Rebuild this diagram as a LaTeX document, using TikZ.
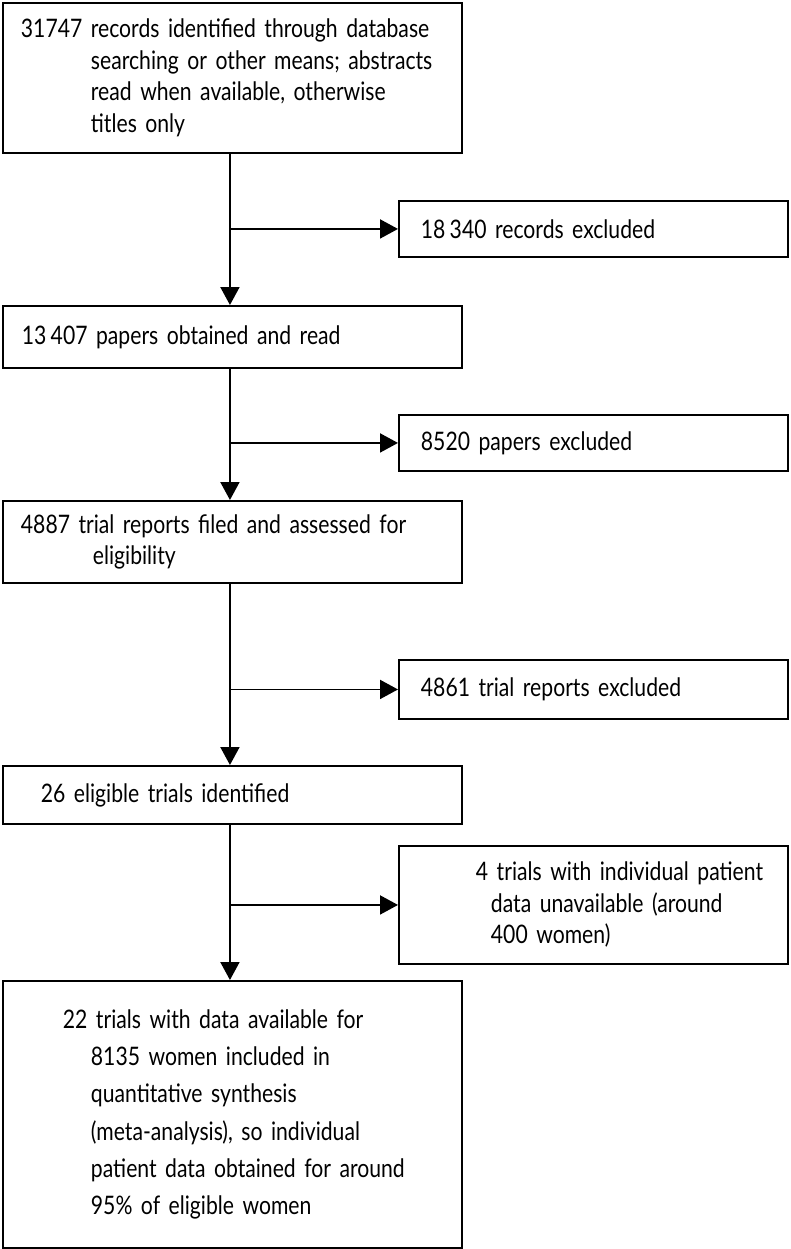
\documentclass[tikz,border=0pt]{standalone}
\usepackage{fontspec}
\setmainfont{Lato}[FakeStretch=0.83, WordSpace=0.7]
\usetikzlibrary{positioning,arrows.meta}

% continuation line with its indent
\newcommand{\contline}[1]{\newline\hspace*{#1}}

\begin{document}
\begin{tikzpicture}[
  x=1pt, y=-1pt,
  mainbox/.style={rectangle, draw, line width=1.9pt, anchor=north west, inner xsep=0pt, inner ysep=0pt, text width=459pt, minimum height=#1},
  exbox/.style={rectangle, draw, line width=1.9pt, anchor=north west, inner xsep=0pt, inner ysep=0pt, text width=389pt, minimum height=#1},
  flow/.style={-{Triangle[length=18pt,width=19pt]}, line width=1.9pt},
  font=\fontsize{25.5}{31.5}\selectfont
]
\useasboundingbox (0,0) rectangle (790,1249);

\node[mainbox=150pt] (records) at (2,2) {\hspace*{18pt}31747 records identified through database\contline{88pt}searching or other means; abstracts\contline{88pt}read when available, otherwise\contline{88pt}titles only};
\node[mainbox=62pt] (papers) at (2,305) {\hspace*{19pt}13\,407 papers obtained and read};
\node[mainbox=82pt] (reports) at (2,500) {\hspace*{18pt}4887 trial reports filed and assessed for\contline{90pt}eligibility};
\node[mainbox=58pt] (eligible) at (2,765) {\hspace*{38pt}26 eligible trials identified};
\node[mainbox=267pt, font=\fontsize{25.5}{37.3}\selectfont] (included) at (2,980) {\hspace*{60pt}22 trials with data available for\contline{88pt}8135 women included in\contline{88pt}quantitative synthesis\contline{88pt}(meta-analysis), so individual\contline{88pt}patient data obtained for around\contline{88pt}95\% of eligible women};

\node[exbox=56pt] (recexcl) at (398,200) {\hspace*{22pt}18\,340 records excluded};
\node[exbox=56pt] (papexcl) at (398,414) {\hspace*{22pt}8520 papers excluded};
\node[exbox=59pt] (repexcl) at (398,659) {\hspace*{22pt}4861 trial reports excluded};
\node[exbox=118pt] (unavail) at (398,845) {\hspace*{77pt}4 trials with individual patient\contline{92pt}data unavailable (around\contline{92pt}400 women)};

\draw[flow] ([xshift=-2.5pt]records.south) -- ([xshift=-2.5pt]papers.north);
\draw[flow] ([xshift=-2.5pt]papers.south) -- ([xshift=-2.5pt]reports.north);
\draw[flow] ([xshift=-2.5pt]reports.south) -- ([xshift=-2.5pt]eligible.north);
\draw[flow] ([xshift=-2.5pt]eligible.south) -- ([xshift=-2.5pt]included.north);

\draw[flow] ([xshift=-2.5pt]records.south |- recexcl.west) -- (recexcl);
\draw[flow] ([xshift=-2.5pt]papers.south |- papexcl.west) -- (papexcl);
\draw[flow] ([xshift=-2.5pt]reports.south |- repexcl.west) -- (repexcl);
\draw[flow] ([xshift=-2.5pt]eligible.south |- unavail.west) -- (unavail);
\end{tikzpicture}
\end{document}
